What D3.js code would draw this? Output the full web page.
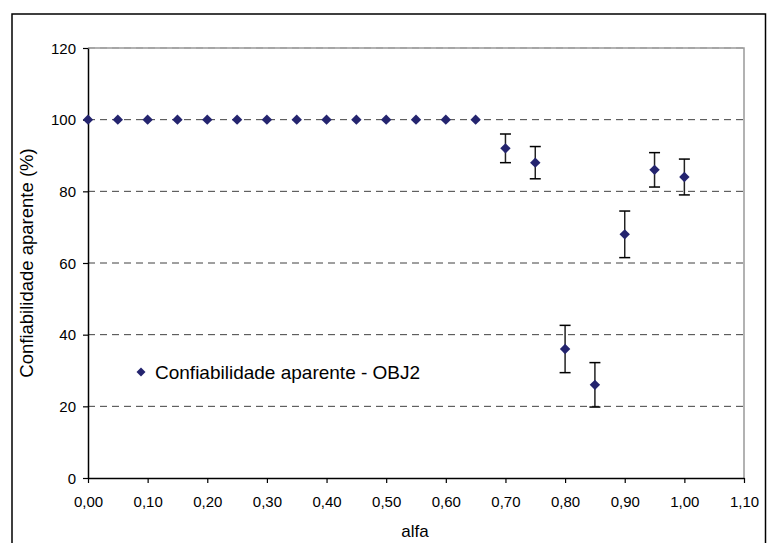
<!DOCTYPE html>
<html><head><meta charset="utf-8">
<script src="https://cdn.jsdelivr.net/npm/d3@7"></script>
<style>body{margin:0;background:#fff}svg{display:block}text{font-family:"Liberation Sans",Arial,sans-serif}</style>
</head><body>
<script>
const alfa = [0,0.05,0.10,0.15,0.20,0.25,0.30,0.35,0.40,0.45,0.50,0.55,0.60,0.65,0.70,0.75,0.80,0.85,0.90,0.95,1.00];
const conf = [100,100,100,100,100,100,100,100,100,100,100,100,100,100,92,88,36,26,68,86,84];
const err  = [0,0,0,0,0,0,0,0,0,0,0,0,0,0,4,4.5,6.6,6.2,6.5,4.8,5];
const xTicks = [0,0.1,0.2,0.3,0.4,0.5,0.6,0.7,0.8,0.9,1.0,1.1];
const yTicks = [0,20,40,60,80,100,120];
const seriesName = "Confiabilidade aparente - OBJ2";

const W=768,H=543;
const svg=d3.select("body").append("svg").attr("width",W).attr("height",H);
svg.append("rect").attr("x",12).attr("y",14).attr("width",753.5).attr("height",H).attr("fill","#fff").attr("stroke","#000").attr("stroke-width",1.5);

const x=d3.scaleLinear().domain([0,1.1]).range([88,744]);
const y=d3.scaleLinear().domain([0,120]).range([478,48]);

// plot border (gray)
svg.append("path").attr("d",`M${x(0)},${y(120)}H${x(1.1)}V${y(0)}`).attr("fill","none").attr("stroke","#999").attr("stroke-width",1.5);
// gridlines
svg.append("g").selectAll("line").data(yTicks.filter(d=>d>0)).join("line")
  .attr("x1",x(0)).attr("x2",x(1.1)).attr("y1",d=>y(d)).attr("y2",d=>y(d))
  .attr("stroke",d=>d===120?"#999":"#404040").attr("stroke-width",1).attr("stroke-dasharray","7,5");

const fmt=d=>d3.format(".2f")(d).replace(".",",");
const xa=svg.append("g").attr("transform",`translate(0,${y(0)})`).call(d3.axisBottom(x).tickValues(xTicks).tickFormat(fmt).tickSize(5).tickSizeOuter(0));
const ya=svg.append("g").attr("transform",`translate(${x(0)},0)`).call(d3.axisLeft(y).tickValues(yTicks).tickSize(5).tickSizeOuter(0));
[xa,ya].forEach(a=>{a.select(".domain").attr("stroke","#000").attr("stroke-width",1.5);a.selectAll(".tick line").attr("stroke","#000").attr("stroke-width",1.2);a.selectAll("text").attr("font-size",15).attr("fill","#000").attr("font-family","Liberation Sans, Arial, sans-serif");});
xa.selectAll("text").attr("y",29).attr("dy",0);
ya.selectAll("text").attr("x",-12).attr("dy","0.35em");

// error bars
const eb=svg.append("g").selectAll("g").data(alfa.map((a,i)=>({a,v:conf[i],e:err[i]})).filter(d=>d.e>0)).join("g");
eb.append("line").attr("x1",d=>x(d.a)).attr("x2",d=>x(d.a)).attr("y1",d=>y(d.v+d.e)).attr("y2",d=>y(d.v-d.e)).attr("stroke","#222").attr("stroke-width",1.5);
eb.append("line").attr("x1",d=>x(d.a)-5.5).attr("x2",d=>x(d.a)+5.5).attr("y1",d=>y(d.v+d.e)).attr("y2",d=>y(d.v+d.e)).attr("stroke","#000").attr("stroke-width",1.5);
eb.append("line").attr("x1",d=>x(d.a)-5.5).attr("x2",d=>x(d.a)+5.5).attr("y1",d=>y(d.v-d.e)).attr("y2",d=>y(d.v-d.e)).attr("stroke","#000").attr("stroke-width",1.5);

const diamond=(s)=>`M0,${-s}L${s},0L0,${s}L${-s},0Z`;
svg.append("g").selectAll("path").data(alfa.map((a,i)=>({a,v:conf[i]}))).join("path")
  .attr("d",diamond(5.2)).attr("transform",d=>`translate(${x(d.a)},${y(d.v)})`).attr("fill","#24246f");

// legend
svg.append("path").attr("d",diamond(4.5)).attr("transform","translate(141,372)").attr("fill","#24246f");
svg.append("text").attr("x",155).attr("y",372).attr("dy","0.35em").attr("font-size",19).text(seriesName);

// axis titles
svg.append("text").attr("x",415).attr("y",537).attr("text-anchor","middle").attr("font-size",17).text("alfa");
svg.append("text").attr("transform",`translate(33,${(y(0)+y(120))/2}) rotate(-90)`).attr("text-anchor","middle").attr("font-size",18.5).text("Confiabilidade aparente (%)");
</script>
</body></html>
